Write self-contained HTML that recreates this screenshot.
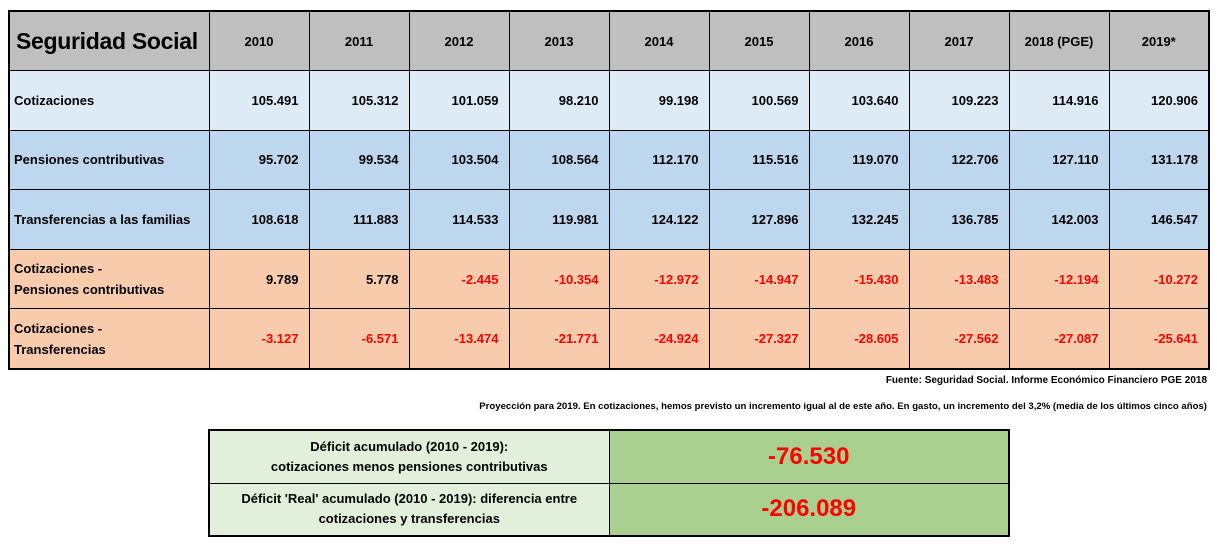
<!DOCTYPE html>
<html><head><meta charset="utf-8"><style>
body{margin:0;width:1217px;height:546px;background:#fff;font-family:"Liberation Sans",sans-serif;position:relative;overflow:hidden}
table{border-collapse:collapse;position:absolute;table-layout:fixed}
#main{left:8px;top:10px;width:1200px;border:2px solid #000}
#main td{border:1px solid #000;height:59.6px;font-weight:bold;font-size:13px;padding:0 10px;box-sizing:border-box;white-space:nowrap}
#main td.n{text-align:right}
#main tr.h td{background:#bfbfbf;text-align:center}
#main tr.h td.t{font-size:23px;text-align:left;padding-left:6px;letter-spacing:-0.3px}
#main td.l{padding-left:4px;text-align:left;line-height:21px}
.r1 td{background:#ddebf7}.r2 td{background:#bdd7ee}.r4 td{background:#f8cbad}
.neg{color:#ff0000}
.note{position:absolute;right:10px;font-size:10px;font-weight:bold}
#sum{left:208px;top:429px;width:800px;border:2px solid #000}
#sum td{border:1px solid #000;font-weight:bold;text-align:center;padding:0;box-sizing:border-box;height:53px}
#sum td.a{background:#e2efda;font-size:13px;line-height:20px;width:400px}
#sum td.b{background:#a9d08e;color:#ff0000;font-size:24px}
</style></head><body>
<table id="main">
<colgroup><col style="width:200px"><col span="10" style="width:100px"></colgroup>
<tr class="h"><td class="t">Seguridad Social</td><td>2010</td><td>2011</td><td>2012</td><td>2013</td><td>2014</td><td>2015</td><td>2016</td><td>2017</td><td>2018 (PGE)</td><td>2019*</td></tr>
<tr class="r1"><td class="l">Cotizaciones</td><td class="n">105.491</td><td class="n">105.312</td><td class="n">101.059</td><td class="n">98.210</td><td class="n">99.198</td><td class="n">100.569</td><td class="n">103.640</td><td class="n">109.223</td><td class="n">114.916</td><td class="n">120.906</td></tr>
<tr class="r2"><td class="l">Pensiones contributivas</td><td class="n">95.702</td><td class="n">99.534</td><td class="n">103.504</td><td class="n">108.564</td><td class="n">112.170</td><td class="n">115.516</td><td class="n">119.070</td><td class="n">122.706</td><td class="n">127.110</td><td class="n">131.178</td></tr>
<tr class="r2"><td class="l">Transferencias a las familias</td><td class="n">108.618</td><td class="n">111.883</td><td class="n">114.533</td><td class="n">119.981</td><td class="n">124.122</td><td class="n">127.896</td><td class="n">132.245</td><td class="n">136.785</td><td class="n">142.003</td><td class="n">146.547</td></tr>
<tr class="r4"><td class="l">Cotizaciones -<br>Pensiones contributivas</td><td class="n">9.789</td><td class="n">5.778</td><td class="n neg">-2.445</td><td class="n neg">-10.354</td><td class="n neg">-12.972</td><td class="n neg">-14.947</td><td class="n neg">-15.430</td><td class="n neg">-13.483</td><td class="n neg">-12.194</td><td class="n neg">-10.272</td></tr>
<tr class="r4"><td class="l">Cotizaciones -<br>Transferencias</td><td class="n neg">-3.127</td><td class="n neg">-6.571</td><td class="n neg">-13.474</td><td class="n neg">-21.771</td><td class="n neg">-24.924</td><td class="n neg">-27.327</td><td class="n neg">-28.605</td><td class="n neg">-27.562</td><td class="n neg">-27.087</td><td class="n neg">-25.641</td></tr>
</table>
<div class="note" style="top:375px">Fuente: Seguridad Social. Informe Económico Financiero PGE 2018</div>
<div class="note" style="top:401px;font-size:9.6px">Proyección para 2019. En cotizaciones, hemos previsto un incremento igual al de este año. En gasto, un incremento del 3,2% (media de los últimos cinco años)</div>
<table id="sum">
<colgroup><col style="width:400px"><col style="width:400px"></colgroup>
<tr><td class="a">Déficit acumulado (2010 - 2019):<br>cotizaciones menos pensiones contributivas</td><td class="b">-76.530</td></tr>
<tr><td class="a">Déficit 'Real' acumulado (2010 - 2019): diferencia entre<br>cotizaciones y transferencias</td><td class="b">-206.089</td></tr>
</table>
</body></html>
